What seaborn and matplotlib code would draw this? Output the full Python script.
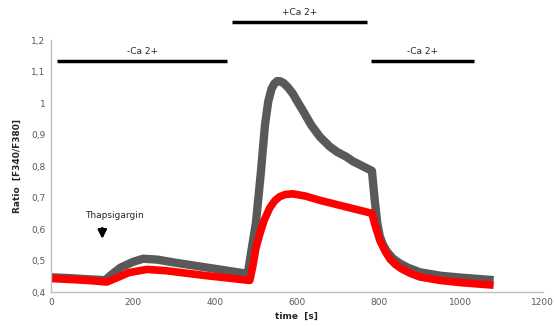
import numpy as np
import pandas as pd
import seaborn as sns
import matplotlib.pyplot as plt

# time points (s) and ratio values
t_gray = [0, 50, 100, 132, 150, 170, 200, 225, 260, 300, 350, 400, 440, 480,
          490, 500, 512, 522, 530, 538, 545, 552, 560, 568, 578, 590, 602, 615, 635, 656, 680,
          698, 720, 737, 760, 783,
          790, 796, 802, 810, 820, 834, 850, 870, 900, 950, 1000, 1040, 1080]
r_gray = [0.447, 0.444, 0.44, 0.438, 0.458, 0.478, 0.496, 0.506, 0.503, 0.494, 0.484, 0.474, 0.466, 0.458,
          0.54, 0.62, 0.78, 0.93, 1.005, 1.045, 1.062, 1.07, 1.069, 1.063, 1.05, 1.03, 1.003, 0.975, 0.93, 0.893, 0.862,
          0.845, 0.83, 0.815, 0.8, 0.785,
          0.69, 0.62, 0.578, 0.55, 0.528, 0.507, 0.492, 0.478, 0.463, 0.452, 0.446, 0.442, 0.438]

t_red = [0, 50, 100, 136, 160, 190, 234, 280, 330, 380, 430, 485,
         492, 500, 510, 520, 534, 546, 558, 572, 590, 620, 660, 700, 740, 783,
         790, 802, 815, 827, 840, 855, 876, 900, 950, 1000, 1040, 1080]
r_red = [0.443, 0.44, 0.436, 0.432, 0.445, 0.462, 0.472, 0.468, 0.46, 0.452, 0.445, 0.437,
         0.48, 0.54, 0.587, 0.628, 0.668, 0.69, 0.703, 0.71, 0.712, 0.705, 0.69, 0.677, 0.664, 0.65,
         0.615, 0.565, 0.53, 0.505, 0.488, 0.474, 0.46, 0.448, 0.437, 0.43, 0.426, 0.422]

# condition bars: label, start, end, level
bar_labels = ["-Ca 2+", "+Ca 2+", "-Ca 2+"]
bar_start = [15, 441, 780]
bar_end = [429, 771, 1032]
bar_level = [1.133, 1.257, 1.133]

yticks = [0.4, 0.5, 0.6, 0.7, 0.8, 0.9, 1.0, 1.1, 1.2]
ytick_labels = ["0,4", "0,5", "0,6", "0,7", "0,8", "0,9", "1", "1,1", "1,2"]
xticks = [0, 200, 400, 600, 800, 1000, 1200]

sns.set_style("white")
plt.rcParams['font.family'] = ['DejaVu Sans']

df_gray = pd.DataFrame({"t": t_gray, "r": r_gray})
df_red = pd.DataFrame({"t": t_red, "r": r_red})

fig = plt.figure(figsize=(5.55, 3.26), dpi=100)
ax = fig.add_axes([0.092, 0.104, 0.886, 0.773])

sns.lineplot(data=df_gray, x="t", y="r", color="#595959", linewidth=6, ax=ax)
sns.lineplot(data=df_red, x="t", y="r", color="#ff0000", linewidth=5.5, ax=ax)
for ln in ax.get_lines():
    ln.set_solid_capstyle("butt")
    ln.set_solid_joinstyle("round")

ax.set_xlim(0, 1200)
ax.set_ylim(0.4, 1.2)
ax.set_xticks(xticks)
ax.set_xticklabels([str(x) for x in xticks])
ax.set_yticks(yticks)
ax.set_yticklabels(ytick_labels)
ax.tick_params(length=0, labelsize=6.5, colors="#595959", pad=4)

for side in ["top", "right"]:
    ax.spines[side].set_visible(False)
for side in ["left", "bottom"]:
    ax.spines[side].set_color("#bfbfbf")
    ax.spines[side].set_linewidth(1)

ax.set_xlabel("time  [s]", fontsize=6.5, fontweight="bold", color="#262626", labelpad=4)
ax.set_ylabel("Ratio  [F340/F380]", fontsize=6.5, fontweight="bold", color="#262626", labelpad=7)

for lab, s, e, lev in zip(bar_labels, bar_start, bar_end, bar_level):
    ax.plot([s, e], [lev, lev], color="black", linewidth=2.5, clip_on=False, solid_capstyle="butt")
    ax.text((s + e) / 2, lev + 0.015, lab, ha="center", va="bottom", fontsize=6.5,
            color="#262626", clip_on=False)

# Thapsigargin arrow
ax.annotate("", xy=(125, 0.56), xytext=(125, 0.612),
            arrowprops=dict(arrowstyle="-|>,head_width=0.25,head_length=0.5", color="black", lw=1.8))
ax.text(155, 0.63, "Thapsigargin", ha="center", va="bottom", fontsize=6.5, color="#262626")

fig.savefig("out.png", dpi=100)
